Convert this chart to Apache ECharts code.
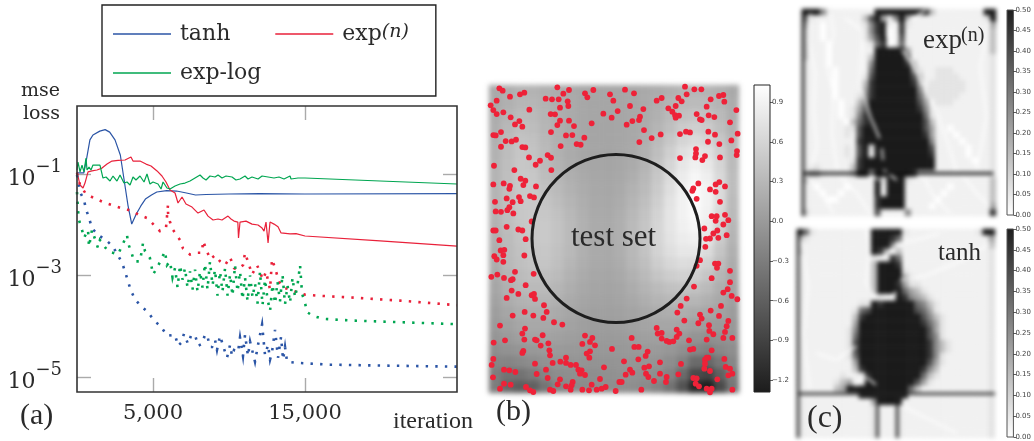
<!DOCTYPE html>
<html><head><meta charset="utf-8">
<style>
html,body{margin:0;padding:0;background:#fff}
#c{width:1034px;height:441px}
canvas[data-zr-dom-id="zr_0"]{filter:blur(1.9px)}
canvas[data-zr-dom-id="zr_1"]{filter:blur(2.6px)}
</style>
<script src="https://cdn.jsdelivr.net/npm/echarts@6/dist/echarts.min.js"></script>
</head><body><div id="c"></div>
<script>
// ---------- panel (a): mse loss against iteration ----------
const tanhIter=[0,450,650,850,1050,1500,1850,2150,2500,2850,3100,3350,3600,3900,4200,4500,4900,5250,5900,6550,7200,7800,8500,10000,12000,15000,25000];
const tanhLoss=[.105,.105,.216,.47,.588,.70,.75,.67,.47,.237,.0762,.0245,.0103,.0163,.0235,.0321,.0386,.0442,.047,.0462,.0422,.0386,.0395,.0404,.041,.0404,.041];
const expIter=[0,200,395,525,725,985,1315,1645,1975,2300,2700,3160,3550,3685,4145,4540,4870,5265,5590,5855,6120,6450,6645,6910,7170,7565,7960,8355,8620,8950,9280,9540,9935,10130,10330,10580,10625,10725,11120,11515,11910,12175,12305,12435,12570,12700,12960,13225,13425,14015,14410,15000,19940,25000];
const expLoss=[.110,.0607,.053,.0664,.110,.115,.120,.131,.157,.180,.185,.189,.216,.180,.180,.157,.144,.115,.0913,.0695,.0484,.0422,.0268,.0352,.0256,.0223,.0170,.0195,.0148,.0124,.0130,.0124,.0148,.0130,.0118,.0113,.0055,.0113,.0118,.0103,.0099,.0086,.0075,.0113,.0044,.0113,.0103,.0091,.0069,.0066,.0067,.0060,.0048,.0038];
const expLogIter=[0,65,200,330,460,590,660,790,920,1050,1510,1710,1910,2170,2370,2630,2830,3090,3290,3490,3685,3880,4145,4410,4605,4800,5000,5330,5530,5660,5920,6120,6450,6780,7105,7435,7765,8095,8290,8490,8750,9080,9280,9540,9805,10200,10460,10725,11055,11250,11515,11910,12175,12570,12960,13290,13620,14015,14080,14210,14540,15000,19940,25000];
const expLogLoss=[.120,.172,.110,.150,.110,.207,.120,.137,.120,.150,.150,.0834,.0873,.0728,.0913,.0728,.0956,.0664,.0695,.0607,.0873,.0762,.0913,.0695,.100,.0635,.0695,.0635,.0506,.0695,.053,.0506,.058,.0635,.0664,.0728,.0834,.0956,.0834,.0762,.0913,.0873,.0956,.0834,.0913,.0873,.0762,.0797,.0913,.0797,.0873,.0797,.0913,.0873,.0834,.0873,.0797,.0913,.0797,.0797,.0834,.0834,.0728,.0635];
const tanhTrainIter=[0,200,460,590,790,985,1380,1910,2370,2960,3160,3355,3555,3815,4210,4670,5065,5530,5920,6450,6645,6845,7040,7305,7500,7765,7960,8225,8420,8555,8750,8885,9080,9210,9410,9540,9740,9870,10070,10200,10330,10595,10725,10920,11055,11250,11385,11515,11710,11910,12175,12370,12570,12700,12830,13030,13225,13425,13555,13685,13820,14475,16650,19940,25000];
const tanhTrainLoss=[.0956,.0442,.0307,.0204,.0136,.0086,.0063,.0050,.0037,.0018,.0012,.00076,.0005,.00034,.00025,.00019,.00013,.000098,6.5e-5,6.8e-5,4.1e-5,4.7e-5,7.1e-5,4.5e-5,6.5e-5,6.8e-5,4.1e-5,4.5e-5,6.8e-5,6.8e-5,3.9e-5,3.9e-5,5.4e-5,3.4e-5,6.5e-5,6.8e-5,3.1e-5,2.4e-5,4.3e-5,2.6e-5,3.4e-5,3.1e-5,6e-5,2.6e-5,6.8e-5,2.6e-5,5e-5,5e-5,2e-5,4.3e-5,1.08e-4,2.7e-5,4.3e-5,2.2e-5,3.1e-5,8.5e-5,2.4e-5,6.2e-5,2.2e-5,3.9e-5,2e-5,1.9e-5,1.75e-5,1.68e-5,1.6e-5];
const expTrainIter=[0,200,590,1120,1710,2300,2895,3620,4080,4605,5065,5460,5855,5985,5990,6120,6320,6780,6975,7435,7765,8225,8290,8555,8755,9085,9410,9740,10070,10330,10530,10925,11055,11385,11515,11845,12240,12435,12700,12830,13030,13290,13555,14015,14540,15000,15855,17960,21250,25000];
const expTrainLoss=[.105,.0607,.0404,.0336,.0281,.0245,.0214,.0187,.0156,.0136,.0099,.0075,.0086,.0245,.0170,.0113,.0079,.0050,.0034,.0026,.0028,.0028,.0048,.0030,.0021,.0025,.0019,.0016,.0023,.0014,.0013,.0016,.0028,.0014,.00105,.0016,.00083,.0012,.00053,.0021,.0014,.00076,.00058,.00053,.00046,.00042,.0004,.00037,.00032,.00026];
const expLogTrainIter=[0,65,130,330,460,725,790,985,1380,1510,2040,2700,3290,3355,3620,3750,4145,4345,4475,4800,5000,5265,5790,5920,6120,6285,6450,6615,6780,6940,7105,7270,7435,7600,7765,7930,8095,8255,8420,8585,8750,8915,9080,9245,9410,9570,9740,9905,10070,10230,10395,10560,10725,10890,11055,11220,11385,11550,11710,11875,12040,12205,12370,12535,12700,12865,13030,13190,13355,13520,13685,13850,14015,14180,14345,14510,14675,14805,15000,15130,15525,16180,17960,21250,25000];
const expLogTrainLoss=[.0442,.0195,.0124,.0079,.0055,.0079,.0037,.0079,.0035,.0050,.0030,.0026,.0063,.0044,.0026,.0019,.0019,.0044,.0030,.0022,.00105,.0014,.0030,.0016,.0019,.00091,.0014,.00058,.0016,.00083,.0014,.00058,.0012,.00053,.0013,.00048,.0012,.00058,.0017,.00053,.0019,.00064,.0013,.0004,.0012,.00048,.0014,.0004,.00105,.0004,.0016,.00048,.0012,.00034,.00091,.00031,.001,.00037,.0007,.00028,.0012,.00026,.00083,.00034,.0002,.00066,.00028,.00076,.00031,.00105,.00027,.00064,.00029,.00091,.00037,.00066,.0016,.00044,.00029,.00019,.00016,.00014,.00013,.00012,.00011];
const xTicks=[5000,15000];
const yTicks=[1e-1,1e-3,1e-5];

// ---------- panel (b): field (hundredths), 20 columns x 25 rows ----------
const fieldRows=[
[15,20,25,25,22,18,15,13,12,12,12,13,15,18,22,26,28,26,22,15],
[15,22,28,28,24,19,16,13,12,12,12,13,16,20,26,32,34,32,26,18],
[18,26,33,32,26,20,16,13,12,11,12,14,17,23,32,40,44,40,32,20],
[20,30,38,36,28,21,16,13,11,11,12,14,18,27,38,50,54,50,38,24],
[22,33,42,40,30,22,16,13,11,11,12,14,20,32,46,60,66,60,46,28],
[24,36,45,42,32,23,17,13,11,10,12,15,23,37,54,70,78,72,54,32],
[25,37,46,44,34,25,18,14,12,11,13,17,26,42,60,78,88,80,60,34],
[26,38,47,46,36,28,21,16,13,12,14,20,30,46,66,84,94,86,64,36],
[26,38,47,47,40,32,24,18,14,13,16,24,34,50,70,88,98,90,66,36],
[26,38,47,48,44,36,27,20,15,14,18,27,38,54,74,90,100,90,66,34],
[25,37,46,48,46,40,30,22,16,15,20,30,42,58,76,90,98,88,62,32],
[24,36,44,46,48,42,32,23,17,16,21,32,44,60,76,88,94,82,56,28],
[22,34,42,46,48,42,32,23,17,16,21,32,44,60,74,84,88,76,50,26],
[20,32,40,44,46,40,31,22,16,15,20,30,42,58,70,78,78,66,44,22],
[18,30,38,42,44,38,28,20,15,14,18,28,38,52,62,68,66,56,36,18],
[15,26,34,38,38,33,24,17,13,12,15,23,32,44,52,56,54,44,28,14],
[12,22,30,32,32,27,20,14,11,10,12,18,26,34,40,42,40,32,20,10],
[8,18,24,26,26,22,16,11,9,8,10,14,20,26,30,30,28,22,14,6],
[4,12,18,20,20,16,12,8,6,6,7,10,14,18,20,20,16,12,8,2],
[0,6,12,14,14,12,8,5,3,3,4,7,10,12,12,10,6,2,0,-2],
[-5,0,5,8,8,6,4,2,0,0,1,3,5,6,4,0,-6,-10,-8,-6],
[-12,-8,-5,-2,0,0,-1,-2,-3,-2,-2,-1,0,0,-3,-10,-20,-26,-18,-12],
[-22,-22,-18,-14,-8,-6,-6,-6,-7,-6,-5,-5,-5,-6,-12,-25,-48,-52,-36,-20],
[-30,-40,-40,-32,-22,-14,-12,-12,-12,-10,-8,-8,-10,-14,-24,-48,-82,-88,-60,-30],
[-30,-52,-62,-58,-38,-22,-18,-16,-14,-12,-12,-12,-16,-24,-40,-72,-118,-125,-82,-36]];
const collocationPoints=[[58,55],[68,62],[90,80],[120,73],[133,68],[232,52],[267,60],[250,71],[315,70],[322,82],[340,60],[390,73],[435,59],[462,70],[615,50],[643,58],[664,58],[620,73],[595,84],[545,84],[530,92],[717,78],[730,75],[692,88],[733,95],[197,86],[216,88],[236,88],[263,94],[265,108],[400,92],[450,108],[490,117],[413,123],[50,92],[32,106],[40,120],[50,132],[70,127],[148,119],[240,113],[370,131],[395,143],[480,140],[477,150],[457,153],[440,164],[335,160],[267,152],[240,152],[232,165],[282,168],[212,132],[225,133],[92,142],[118,153],[105,163],[127,170],[565,115],[587,108],[577,125],[585,135],[597,137],[587,143],[605,94],[680,110],[686,136],[703,141],[650,132],[660,148],[665,150],[750,157],[769,120],[492,180],[213,186],[258,196],[277,195],[313,203],[40,195],[47,196],[63,186],[542,193],[515,204],[600,192],[618,185],[630,187],[685,185],[705,194],[773,191],[478,216],[290,222],[302,224],[242,228],[77,213],[95,214],[108,209],[63,230],[127,231],[136,232],[684,215],[718,222],[754,211],[648,237],[648,250],[646,262],[675,258],[667,270],[720,262],[771,243],[770,255],[600,264],[147,262],[180,272],[167,284],[203,255],[213,263],[42,287],[103,300],[214,300],
[122,326],[136,332],[130,345],[40,343],[71,340],[90,347],[88,356],[168,349],[80,385],[117,381],[122,393],[150,378],[162,382],[45,395],[98,396],[88,411],[82,420],[47,424],[63,425],[100,430],[155,454],[80,470],[40,481],[47,481],[115,478],[127,481],[58,510],[137,507],[62,541],[73,539],[70,555],[43,558],[50,568],[70,575],[133,556],[105,605],[52,613],[34,620],[72,623],[93,630],[98,627],[161,611],[137,645],[95,661],[115,671],[80,683],[155,675],[162,671],[165,686],
[655,340],[640,355],[637,362],[650,386],[690,358],[707,343],[718,336],[735,349],[707,365],[720,395],[695,438],[710,438],[707,452],[735,434],[745,450],[730,463],[712,481],[700,490],[690,505],[678,506],[715,503],[740,495],[673,475],[676,530],[660,570],[650,587],[705,580],[715,580],[711,593],[750,602],[695,624],[750,636],[642,649],[743,657],[730,667],[755,677],[772,687],[620,685],[602,707],[592,727],[723,707],[692,721],[660,733],[665,745],[717,737],[655,759],[745,752],[740,768],[687,765],[613,751],[735,785],[688,782],[700,792],[680,808],[730,803],[757,803],[627,810],
[192,705],[200,725],[134,725],[98,736],[160,736],[190,743],[222,756],[247,763],[60,766],[135,775],[127,790],[188,795],[75,810],[41,817],[133,808],[165,808],[170,810],[182,826],[205,819],[130,842],[127,848],[208,840],[210,855],[315,796],[337,803],[330,815],[307,821],[345,825],[330,843],[320,850],[328,862],[396,836],[455,803],[463,830],[476,830],[503,844],[497,857],[475,867],[432,873],[258,862],[258,878],[272,884],[288,884],[241,874],[218,878],[165,880],[40,866],[35,884],[72,898],[88,900],[106,905],[170,911],[198,898],[203,923],[240,927],[233,942],[278,935],[275,945],[258,948],[272,958],[210,958],[220,962],[138,950],[150,960],[160,965],[92,943],[72,940],[60,955],[39,921],[372,891],[295,898],[305,900],[300,910],[315,914],[360,926],[335,943],[377,950],[365,955],[350,958],[327,960],[307,958],[407,962],[418,935],[425,935],[437,913],[450,898],[457,907],[484,958],
[530,773],[533,790],[545,788],[545,805],[560,812],[568,815],[580,813],[590,800],[598,790],[590,778],[640,836],[630,838],[695,840],[685,862],[675,868],[680,862],[675,880],[673,895],[690,902],[733,866],[737,890],[750,895],[757,910],[745,915],[712,927],[603,881],[540,876],[493,892],[507,888],[498,910],[505,920],[540,910],[522,932],[560,920],[558,935],[595,912],[640,923],[650,924],[647,940],[657,948],[680,955],[695,955],[690,966],[757,958]];
const testSetCircle=[[408,505]];
const fieldTicks=[0.9,0.6,0.3,0,-0.3,-0.6,-0.9,-1.2];

// ---------- panel (c): error maps, each digit indexes errorLevels ----------
const errorLevels=[0,.03,.06,.14,.2,.26,.32,.38,.44,.5];
const errorTicks=[0,.05,.1,.15,.2,.25,.3,.35,.4,.45,.5];
const expRows=[
"99952111 11119999 99999311 11111199",
"62111111 11379425 94111111 11111129",
"41101111 11258911 82111111 11111114",
"31101111 11258901 81111111 11111113",
"31101111 11247901 71111111 11111113",
"31110111 11126802 61111111 11111113",
"31110111 11119999 94111111 11111113",
"31110111 11139999 96111111 11111112",
"21110111 11159999 98311111 11111112",
"21111011 11169999 99521122 21111112",
"21111011 11279999 99731122 22111112",
"21111011 11389999 99841222 22211112",
"21111011 11489999 99952222 22211112",
"21111011 12589999 99963222 22111112",
"21111101 13699999 99974122 21111112",
"21111101 24799999 99985211 11111112",
"21111101 25899999 99996211 11111112",
"21111110 36899999 99997311 11111112",
"21111112 27999999 99997411 01111112",
"21111112 17999999 99998411 10111112",
"21111111 18999999 99999511 11011112",
"21111112 17929999 99999711 11101112",
"21111112 17919999 99999811 11101112",
"21111111 28999999 99999911 11110112",
"22211111 38999999 99999911 11111112",
"24421111 39929999 99811111 11111112",
"31111111 11119299 92111111 11111113",
"21011110 11119199 91111111 01111113",
"21101101 11119199 91111110 11111113",
"21110011 11118999 91111101 11111113",
"21111111 11118999 91111011 11111114",
"31111111 11117111 15111111 11111118"];
const tanhRows=[
"96211111 11119999 92111111 11111299",
"42111111 11119998 61111111 11111114",
"31111111 11119996 11111111 11111113",
"31111111 11119841 31111111 11111112",
"21111111 11112118 61111111 11111112",
"21111111 11113999 81111111 11111112",
"21111111 11113999 92111111 11111112",
"21111111 11113999 94211111 11111112",
"21111111 11113999 84221111 11111112",
"21111111 11113999 96432111 11111112",
"21111111 11111211 98543211 11111112",
"21111111 11229899 99965321 11111112",
"21111111 12679999 99976421 11111112",
"21111111 13899999 99997532 11111112",
"21111111 14999999 99998642 11111112",
"21111111 25999999 99999742 11111112",
"21111111 26999999 99999752 11111112",
"21111111 27999999 99999853 21111112",
"21111111 27999999 99999853 21111112",
"21111111 26999999 99999852 11111112",
"21111111 14999999 99999742 11111112",
"21111111 13899999 99998531 11111112",
"21111112 11289999 99996321 11111112",
"21111123 41199999 99974211 11111112",
"21111134 99999999 99631111 11111112",
"21111111 11999999 99111111 11111112",
"21111111 11114999 91111111 11111112",
"21111111 11112111 21111111 11111112",
"21111111 11112111 21111111 11111112",
"21111111 11112111 21111111 11111112",
"21111111 11112111 21111111 11111112",
"21111111 11112111 21111111 11111112"];
// thin ridges of the maps, as polylines
const expLight=[
[[60,40],[55,120],[75,220],[70,330],[80,440],[60,510]],
[[120,30],[130,100],[110,200],[130,280],[125,400],[140,510]],
[[165,55],[215,90],[215,150],[210,250],[240,350],[268,415]],
[[335,150],[370,200],[400,260],[440,340],[470,420],[500,515]],
[[345,70],[390,40],[410,30]],
[[60,540],[100,590],[130,640]],[[150,530],[200,580],[240,640]],[[400,530],[430,590],[480,640]],[[520,530],[560,580],[600,620]],
[[600,60],[570,200],[590,350],[560,510]],
[[275,445],[278,480]],[[240,525],[268,540]],[[280,510],[320,540]],[[278,555],[278,585]],
[[290,70],[290,110],[310,135],[322,110],[320,70],[300,60]]];
const expDark=[[[40,520],[610,520]],[[38,30],[38,648]]];
const tanhLight=[
[[35,60],[55,200],[40,340],[60,510]],
[[230,30],[240,90],[230,190],[260,240]],
[[330,70],[380,60],[450,40]],
[[80,400],[140,420],[200,380]],
[[200,500],[215,470],[240,480],[258,495]],
[[330,180],[400,170],[520,120],[600,70]],
[[340,560],[420,600],[500,640]],
[[270,240],[300,235],[320,215]],[[275,110],[300,95],[320,70]]];
const tanhDark=[[[22,522],[615,522]],[[25,30],[25,655]],[[263,530],[263,655]],[[322,530],[322,655]]];

const RED='#e9213a',BLUE='#2b55a6',GREEN='#00a651',INK='#2a2a2a';
const SERIF='"DejaVu Serif",serif',BOOK='"Liberation Serif",serif';
const zip=(a,b)=>a.map((v,i)=>[v,b[i]]);
const idx=n=>Array.from({length:n},(_,i)=>i);
const heat=rows=>{const o=[];rows.forEach((r,j)=>r.forEach((v,i)=>o.push([i,j,v])));return o;};
const digitRows=rows=>rows.map(r=>r.replace(/ /g,'').split('').map(d=>errorLevels[+d]));
const flat=paths=>{const o=[];paths.forEach(p=>{p.forEach(q=>o.push(q));o.push([NaN,NaN]);});return o;};

const ZTOP=4;
const gridA={left:77,top:106,width:380,height:286,show:true,borderColor:'#333',borderWidth:1.6,zlevel:ZTOP,z:5};
const barGrid=(l,t,w,h,col0,col1,bc)=>({left:l,top:t,width:w,height:h,show:true,zlevel:ZTOP,borderColor:bc,borderWidth:1,
  backgroundColor:new echarts.graphic.LinearGradient(0,0,0,1,[{offset:0,color:col0},{offset:1,color:col1}])});
const hide={show:false};
const noLine={show:false,onZero:false};
const tickA={show:true,inside:true,length:14,lineStyle:{color:'#aaa',width:1.4}};
const barAxis=(grid,min,max,ticks,fmt)=>({type:'value',gridIndex:grid,min,max,position:'right',zlevel:ZTOP,
  axisLine:noLine,splitLine:{show:false},
  axisTick:{show:true,length:3,customValues:ticks,lineStyle:{color:'#333',width:.8}},
  axisLabel:{show:true,customValues:ticks,margin:2,fontSize:7,color:'#444',fontFamily:'"DejaVu Sans",sans-serif',formatter:fmt}});

const option={
 animation:false,
 grid:[gridA,
  {left:489,top:85,width:250,height:308},
  barGrid(754,85,16,307,'#ffffff','#1c1c1c','#222'),
  {left:802,top:9,width:194,height:207},
  barGrid(1007,10,11,205,'#1e1e1e','#ffffff','#555'),
  {left:797,top:229,width:198,height:209},
  barGrid(1007,229,11,208,'#1e1e1e','#ffffff','#555')],
 xAxis:[
  {type:'value',gridIndex:0,min:0,max:25000,zlevel:ZTOP,axisLine:noLine,splitLine:{show:false},
   axisTick:{...tickA,customValues:xTicks},
   axisLabel:{customValues:xTicks,margin:11,fontSize:21,color:INK,fontFamily:SERIF,formatter:v=>v.toLocaleString('en-US')},
   name:'iteration',nameLocation:'end',nameGap:-24,nameTextStyle:{fontFamily:BOOK,fontSize:24,color:INK,align:'center',verticalAlign:'top',padding:[18,0,0,0]}},
  {type:'value',gridIndex:0,min:0,max:25000,position:'top',zlevel:ZTOP,axisLine:noLine,splitLine:{show:false},axisLabel:hide,
   axisTick:{...tickA,customValues:xTicks}},
  {type:'category',gridIndex:1,data:idx(20),show:false},
  {type:'value',gridIndex:1,min:27,max:777,show:false},
  {type:'value',gridIndex:2,min:0,max:1,show:false},
  {type:'category',gridIndex:3,data:idx(32),show:false},
  {type:'value',gridIndex:3,min:35,max:618,show:false},
  {type:'value',gridIndex:4,min:0,max:1,show:false},
  {type:'category',gridIndex:5,data:idx(32),show:false},
  {type:'value',gridIndex:5,min:22,max:615,show:false},
  {type:'value',gridIndex:6,min:0,max:1,show:false}],
 yAxis:[
  {type:'log',gridIndex:0,logBase:10,min:5.06e-6,max:2.19,zlevel:ZTOP,axisLine:noLine,splitLine:{show:false},minorTick:{show:false},
   axisTick:{...tickA,customValues:yTicks},
   axisLabel:{customValues:yTicks,margin:15,color:INK,fontFamily:SERIF,padding:[0,0,0,0],
     formatter:v=>'{b|10}{e|−'+Math.round(-Math.log10(v))+'}',
     rich:{b:{fontSize:22,fontFamily:SERIF,color:INK,verticalAlign:'bottom',padding:[10,0,0,0]},e:{fontSize:18,fontFamily:SERIF,color:INK,verticalAlign:'top'}}},
   name:'mse\nloss',nameLocation:'end',nameGap:3,nameTextStyle:{fontFamily:SERIF,fontSize:19,color:INK,align:'right',verticalAlign:'middle',lineHeight:23,padding:[0,17,0,0]}},
  {type:'log',gridIndex:0,logBase:10,min:5.06e-6,max:2.19,position:'right',zlevel:ZTOP,axisLine:noLine,splitLine:{show:false},axisLabel:hide,minorTick:{show:false},
   axisTick:{...tickA,customValues:yTicks}},
  {type:'category',gridIndex:1,data:idx(25),inverse:true,show:false},
  {type:'value',gridIndex:1,min:45,max:968,inverse:true,show:false},
  barAxis(2,-1.29,1.03,fieldTicks,v=>v.toFixed(1).replace('-','−')),
  {type:'category',gridIndex:3,data:idx(32),inverse:true,show:false},
  {type:'value',gridIndex:3,min:27,max:648,inverse:true,show:false},
  barAxis(4,0,.5,errorTicks,v=>v.toFixed(2)),
  {type:'category',gridIndex:5,data:idx(32),inverse:true,show:false},
  {type:'value',gridIndex:5,min:27,max:655,inverse:true,show:false},
  barAxis(6,0,.5,errorTicks,v=>v.toFixed(2))],
 visualMap:[
  {type:'continuous',show:false,seriesIndex:6,dimension:2,min:-1.29,max:1.03,inRange:{color:['#1c1c1c','#ffffff']}},
  {type:'continuous',show:false,seriesIndex:9,dimension:2,min:0,max:.5,inRange:{color:['#ffffff','#1a1a1a']}},
  {type:'continuous',show:false,seriesIndex:12,dimension:2,min:0,max:.5,inRange:{color:['#ffffff','#1a1a1a']}}],
 legend:{left:102,top:5,orient:'horizontal',width:340,zlevel:ZTOP,data:['tanh','exp(n)','exp-log'],
  padding:[18,27,12,11],borderColor:'#222',borderWidth:1.4,backgroundColor:'#fff',
  icon:'rect',itemWidth:58,itemHeight:1.4,itemGap:17,
  textStyle:{fontFamily:SERIF,fontSize:22,color:INK,
    rich:{n:{fontFamily:SERIF,fontSize:22,color:INK,padding:[0,0,0,4]},t:{fontFamily:SERIF,fontSize:22,color:INK,padding:[0,0,0,4]},
          s:{fontFamily:SERIF,fontSize:19,fontStyle:'italic',color:INK,verticalAlign:'top'}}},
  formatter:n=>n==='exp(n)'?'{t|exp}{s|(n)}':(n==='tanh'?'{n|tanh\u00a0\u00a0\u00a0\u00a0}':'{t|exp-log}')},
 series:[
  {name:'tanh',type:'line',data:zip(tanhIter,tanhLoss),showSymbol:false,symbol:'none',zlevel:ZTOP,lineStyle:{color:BLUE,width:1.2},itemStyle:{color:BLUE}},
  {name:'exp(n)',type:'line',data:zip(expIter,expLoss),showSymbol:false,symbol:'none',zlevel:ZTOP,lineStyle:{color:RED,width:1.2},itemStyle:{color:RED}},
  {name:'exp-log',type:'line',data:zip(expLogIter,expLogLoss),showSymbol:false,symbol:'none',zlevel:ZTOP,lineStyle:{color:GREEN,width:1.2},itemStyle:{color:GREEN}},
  {name:'tanh train',type:'line',data:zip(tanhTrainIter,tanhTrainLoss),symbol:'none',zlevel:ZTOP,lineStyle:{color:BLUE,width:2.6,type:[2.4,7.2],join:'miter',miterLimit:8}},
  {name:'exp(n) train',type:'line',data:zip(expTrainIter,expTrainLoss),symbol:'none',zlevel:ZTOP,lineStyle:{color:RED,width:2.6,type:[2.4,7.2],join:'miter',miterLimit:10}},
  {name:'exp-log train',type:'line',data:zip(expLogTrainIter,expLogTrainLoss),symbol:'none',zlevel:ZTOP,lineStyle:{color:GREEN,width:2.6,type:[2.4,7.2],join:'miter',miterLimit:5}},
  {name:'field',type:'heatmap',xAxisIndex:2,yAxisIndex:2,data:heat(fieldRows.map(r=>r.map(v=>v/100))),zlevel:1},
  {name:'collocation points',type:'scatter',xAxisIndex:3,yAxisIndex:3,data:collocationPoints,symbolSize:5.8,zlevel:ZTOP,itemStyle:{color:'#ee2238',opacity:1}},
  {name:'test set',type:'scatter',xAxisIndex:3,yAxisIndex:3,data:testSetCircle,symbolSize:168,zlevel:ZTOP,z:3,itemStyle:{color:'rgba(0,0,0,0)',borderColor:'#1e1e1e',borderWidth:3,opacity:1}},
  {name:'error exp(n)',type:'heatmap',xAxisIndex:5,yAxisIndex:5,data:heat(digitRows(expRows)),zlevel:0},
  {name:'ridges exp(n)',type:'line',xAxisIndex:6,yAxisIndex:6,data:flat(expLight),symbol:'none',zlevel:0,z:4,lineStyle:{color:'#fff',width:1.8,opacity:.95}},
  {name:'edges exp(n)',type:'line',xAxisIndex:6,yAxisIndex:6,data:flat(expDark),symbol:'none',zlevel:0,z:5,lineStyle:{color:'#111',width:2.6}},
  {name:'error tanh',type:'heatmap',xAxisIndex:8,yAxisIndex:8,data:heat(digitRows(tanhRows)),zlevel:0},
  {name:'ridges tanh',type:'line',xAxisIndex:9,yAxisIndex:9,data:flat(tanhLight),symbol:'none',zlevel:0,z:4,lineStyle:{color:'#fff',width:1.8,opacity:.95}},
  {name:'edges tanh',type:'line',xAxisIndex:9,yAxisIndex:9,data:flat(tanhDark),symbol:'none',zlevel:0,z:5,lineStyle:{color:'#222',width:2.6}}
 ],
 graphic:[
  {type:'text',zlevel:ZTOP,z:20,left:20,top:401,style:{text:'(a)',font:'30px "Liberation Serif"',fill:INK}},
  {type:'text',zlevel:ZTOP,z:20,left:496,top:397,style:{text:'(b)',font:'30px "Liberation Serif"',fill:INK}},
  {type:'text',zlevel:ZTOP,z:20,left:807,top:403,style:{text:'(c)',font:'32px "Liberation Serif"',fill:INK}},
  {type:'text',zlevel:ZTOP,z:20,left:571,top:222,style:{text:'test set',font:'31px "Liberation Serif"',fill:INK}},
  {type:'text',zlevel:ZTOP,z:20,left:938,top:241,style:{text:'tanh',font:'25px "Liberation Serif"',fill:INK}},
  {type:'text',zlevel:ZTOP,z:20,left:923,top:27,style:{text:'exp',font:'27px "Liberation Serif"',fill:INK}},
  {type:'text',zlevel:ZTOP,z:20,left:961,top:26,style:{text:'(n)',font:'20px "Liberation Serif"',fill:INK}}
 ]
};
const chart=echarts.init(document.getElementById('c'),null,{renderer:'canvas'});
chart.setOption(option);
</script></body></html>
